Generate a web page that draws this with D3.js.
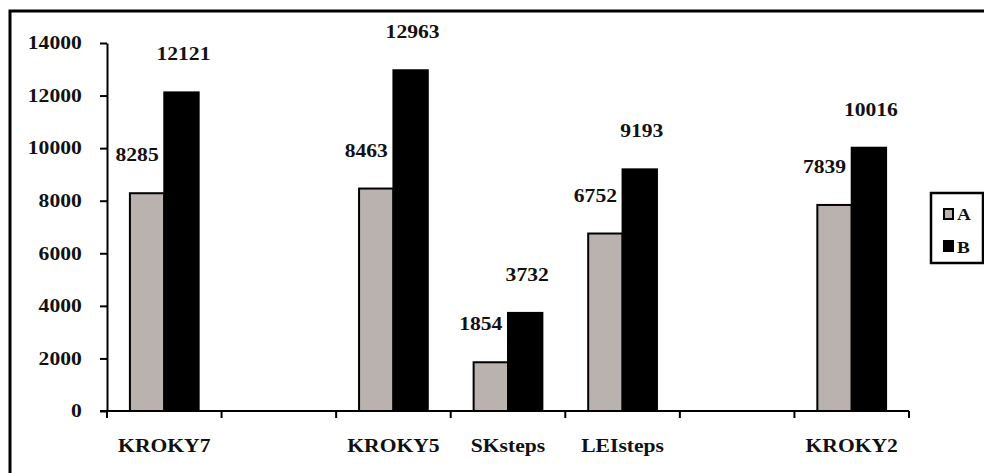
<!DOCTYPE html>
<html>
<head>
<meta charset="utf-8">
<script src="https://cdn.jsdelivr.net/npm/d3@7"></script>
<style>
  body { margin: 0; background: #fff; }
  text { font-family: "Liberation Serif", "Times New Roman", serif; font-weight: bold; fill: #111; }
</style>
</head>
<body>
<div id="chart"></div>
<script>
// slots on the category axis; blank ones are empty groups
var categories = ["KROKY7", "", "KROKY5", "SKsteps", "LEIsteps", "", "KROKY2"];
var seriesNames = ["A", "B"];
var valuesA = [8285, null, 8463, 1854, 6752, null, 7839];
var valuesB = [12121, null, 12963, 3732, 9193, null, 10016];
var yTicks = [0, 2000, 4000, 6000, 8000, 10000, 12000, 14000];

var width = 984, height = 473;
var plot = {left: 107, right: 909, top: 43, bottom: 411};
var stretch = 'scale(1.2,1)';

var svg = d3.select('#chart').append('svg')
    .attr('width', width)
    .attr('height', height);

// outer frame (runs off the right and bottom edges)
svg.append('rect')
    .attr('x', 10).attr('y', 11)
    .attr('width', 1000).attr('height', 500)
    .attr('fill', 'none')
    .attr('stroke', '#000')
    .attr('stroke-width', 3);

var slots = d3.range(categories.length);

var x = d3.scaleBand()
    .domain(slots)
    .range([plot.left, plot.right])
    .padding(0);

var x1 = d3.scaleBand()
    .domain(seriesNames)
    .range([x.bandwidth() * 0.2, x.bandwidth() * 0.8]);

var y = d3.scaleLinear()
    .domain([0, 14000])
    .range([plot.bottom, plot.top]);

var color = d3.scaleOrdinal()
    .domain(seriesNames)
    .range(['#b9b2af', '#000']);

var rows = slots.map(function(i) {
    return {slot: i, name: categories[i], A: valuesA[i], B: valuesB[i]};
}).filter(function(d) { return d.A != null; });

// y axis
var yAxis = d3.axisLeft(y)
    .tickValues(yTicks)
    .tickSize(7)
    .tickSizeOuter(0)
    .tickPadding(14)
    .tickFormat(d3.format('d'));

var gy = svg.append('g')
    .attr('transform', 'translate(' + plot.left + ',0)')
    .call(yAxis);
gy.selectAll('path, line').attr('stroke', '#000').attr('stroke-width', 2);
gy.selectAll('text')
    .attr('font-size', '18px')
    .attr('font-family', null)
    .attr('fill', null)
    .attr('transform', stretch);

// bars + labels, series by series so B bars overlap A labels
seriesNames.forEach(function(key) {
    var g = svg.append('g');
    g.selectAll('rect')
        .data(rows)
        .enter().append('rect')
        .attr('x', function(d) { return x(d.slot) + x1(key); })
        .attr('y', function(d) { return y(d[key]); })
        .attr('width', x1.bandwidth())
        .attr('height', function(d) { return y(0) - y(d[key]); })
        .attr('fill', color(key))
        .attr('stroke', '#000')
        .attr('stroke-width', 2);

    g.selectAll('text')
        .data(rows)
        .enter().append('text')
        .attr('text-anchor', 'middle')
        .attr('font-size', '18px')
        .attr('transform', function(d) {
            var cx = x(d.slot) + x1(key) + x1.bandwidth() / 2 + (key === 'A' ? -10 : 2);
            return 'translate(' + cx + ',' + (y(d[key]) - 32) + ') ' + stretch;
        })
        .text(function(d) { return d[key]; });
});

// x axis: line with ticks on slot boundaries, labels in the middle of slots
var gx = svg.append('g')
    .attr('transform', 'translate(0,' + plot.bottom + ')');

gx.append('line')
    .attr('x1', plot.left - 7).attr('x2', plot.right)
    .attr('stroke', '#000').attr('stroke-width', 2);

gx.selectAll('.tick-line')
    .data(slots.concat([slots.length]))
    .enter().append('line')
    .attr('class', 'tick-line')
    .attr('x1', function(i) { return i < slots.length ? x(i) : plot.right; })
    .attr('x2', function(i) { return i < slots.length ? x(i) : plot.right; })
    .attr('y1', 0).attr('y2', 7)
    .attr('stroke', '#000').attr('stroke-width', 2);

var xAxis = d3.axisBottom(x)
    .tickSize(0)
    .tickPadding(28)
    .tickFormat(function(i) { return categories[i]; });

var gxl = svg.append('g')
    .attr('transform', 'translate(0,' + plot.bottom + ')')
    .call(xAxis);
gxl.select('.domain').remove();
gxl.selectAll('text')
    .attr('font-size', '18px')
    .attr('font-family', null)
    .attr('fill', null)
    .attr('transform', stretch);

// legend
var legend = svg.append('g').attr('transform', 'translate(931,193)');
legend.append('rect')
    .attr('width', 52).attr('height', 70)
    .attr('fill', '#fff')
    .attr('stroke', '#000').attr('stroke-width', 2.5);

seriesNames.forEach(function(key, i) {
    legend.append('rect')
        .attr('x', 13).attr('y', 16 + i * 32)
        .attr('width', 9).attr('height', 10)
        .attr('fill', color(key))
        .attr('stroke', '#000')
        .attr('stroke-width', 2);
    legend.append('text')
        .attr('transform', 'translate(26,' + (27 + i * 33) + ') ' + stretch)
        .attr('font-size', '16px')
        .text(key);
});
</script>
</body>
</html>
